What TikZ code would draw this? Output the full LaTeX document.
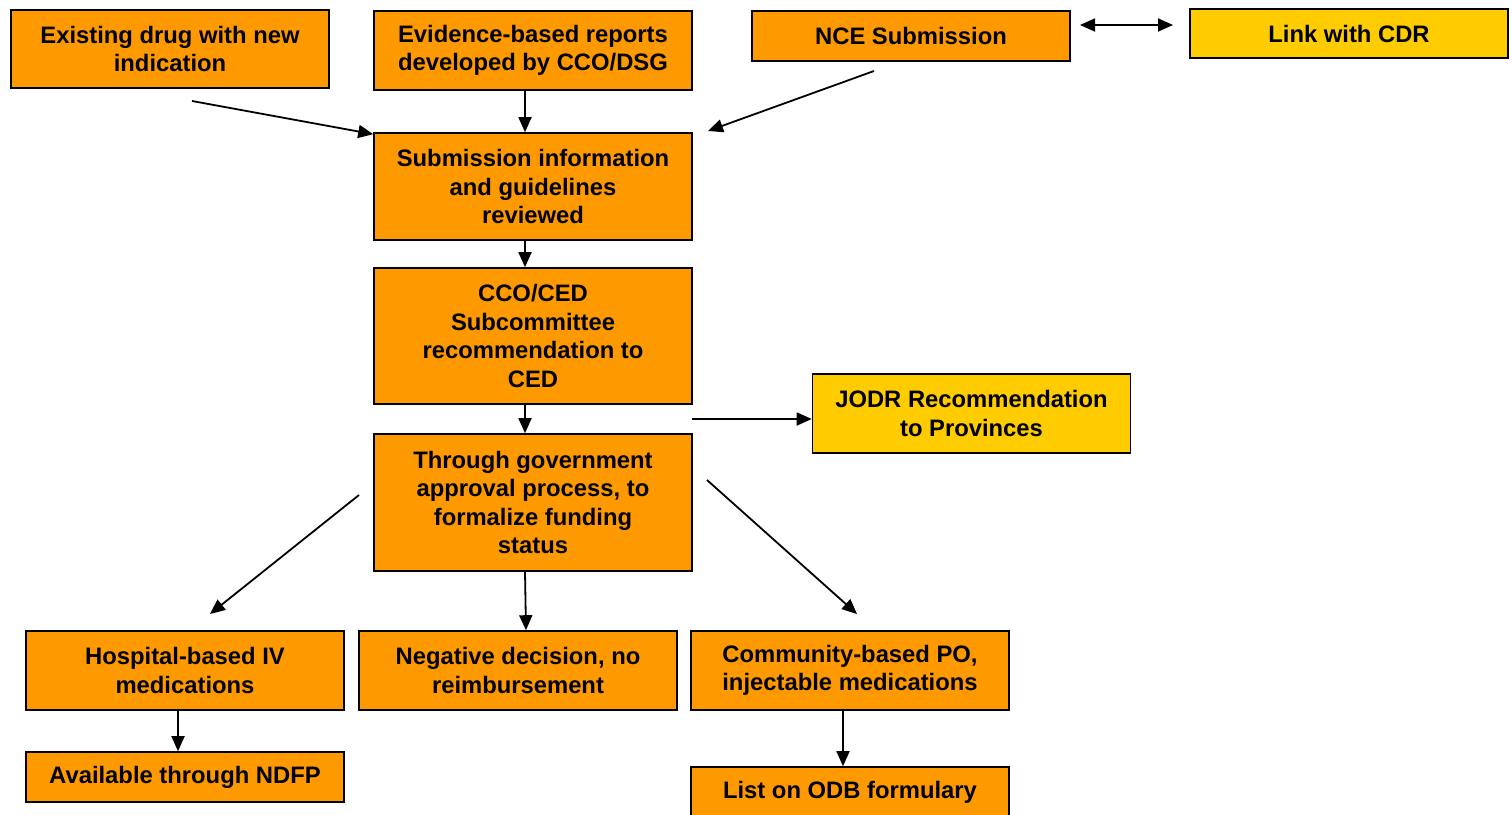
\documentclass[tikz,border=0pt]{standalone}
\usepackage{fontspec}
\setmainfont{Liberation Sans}
\usetikzlibrary{arrows.meta}

\begin{document}
\begin{tikzpicture}[x=1pt, y=-1pt,
  box/.style={draw, line width=1.6pt, fill=boxorange, minimum width=318pt, align=center,
    inner sep=0pt, font=\fontsize{23.8}{28.6}\selectfont\bfseries},
  linkbox/.style={box, fill=linkyellow},
  arr/.style={line width=1.8pt, -{Triangle[length=15pt,width=13pt]}}]
  \definecolor{boxorange}{HTML}{FF9900}
  \definecolor{linkyellow}{HTML}{FFCC00}
  \useasboundingbox (0,0) rectangle (1512,814);

  % top row
  \node[box, minimum height=78pt] (exist) at (170,49) {Existing drug with new\\indication};
  \node[box, minimum height=79pt] (evid) at (533,50.5) {Evidence-based reports\\developed by CCO/DSG};
  \node[box, minimum height=50pt] (nce) at (911,36) {NCE Submission};
  \node[linkbox, minimum height=49pt] (cdr) at (1349,33.5) {Link with CDR};

  % main column
  \node[box, minimum height=107pt] (subm) at (533,186.5) {Submission information\\and guidelines\\reviewed};
  \node[box, minimum height=136pt] (subc) at (533,336) {CCO/CED\\Subcommittee\\recommendation to\\CED};
  \node[linkbox, minimum height=79pt] (jodr) at (971.5,413.5) {JODR Recommendation\\to Provinces};
  \node[box, minimum height=137pt] (govt) at (533,502.5) {Through government\\approval process, to\\formalize funding\\status};

  % outcomes
  \node[box, minimum height=79pt] (hosp) at (185,670.5) {Hospital-based IV\\medications};
  \node[box, minimum height=79pt] (nega) at (518,670.5) {Negative decision, no\\reimbursement};
  \node[box, minimum height=79pt] (comm) at (850,670.5) {Community-based PO,\\injectable medications};
  \node[box, minimum height=50pt] (ndfp) at (185,777) {Available through NDFP};
  \node[box, minimum height=50pt] (odb) at (850,792) {List on ODB formulary};

  % free ends of the loose connectors
  \coordinate (exfrom) at (192,101);
  \coordinate (ncefrom) at (874,71);
  \coordinate (nceto) at (708,131);
  \coordinate (cdrleft) at (1080,25);
  \coordinate (cdrright) at (1173,25);
  \coordinate (jodrfrom) at (692,419);
  \coordinate (hospfrom) at (359,495);
  \coordinate (hospto) at (210,614);
  \coordinate (commfrom) at (707,480);
  \coordinate (commto) at (857,614);

  \draw[arr] (exfrom) -- ([yshift=-2pt]subm.north west);
  \draw[arr] ([xshift=-8pt]evid.south) -- ([xshift=-8pt]subm.north);
  \draw[arr] (ncefrom) -- (nceto);
  \draw[arr, {Triangle[length=15pt,width=13pt]}-{Triangle[length=15pt,width=13pt]}] (cdrleft) -- (cdrright);
  \draw[arr] ([xshift=-8pt]subm.south) -- ([xshift=-8pt]subc.north);
  \draw[arr] ([xshift=-8pt]subc.south) -- ([xshift=-8pt]govt.north);
  \draw[arr] (jodrfrom) -- (jodr.west |- jodrfrom);
  \draw[arr] (hospfrom) -- (hospto);
  \draw[arr] ([xshift=-8pt]govt.south) -- ([xshift=8pt]nega.north);
  \draw[arr] (commfrom) -- (commto);
  \draw[arr] ([xshift=-7pt]hosp.south) -- ([xshift=-7pt]ndfp.north);
  \draw[arr] ([xshift=-7pt]comm.south) -- ([xshift=-7pt]odb.north);
\end{tikzpicture}
\end{document}
